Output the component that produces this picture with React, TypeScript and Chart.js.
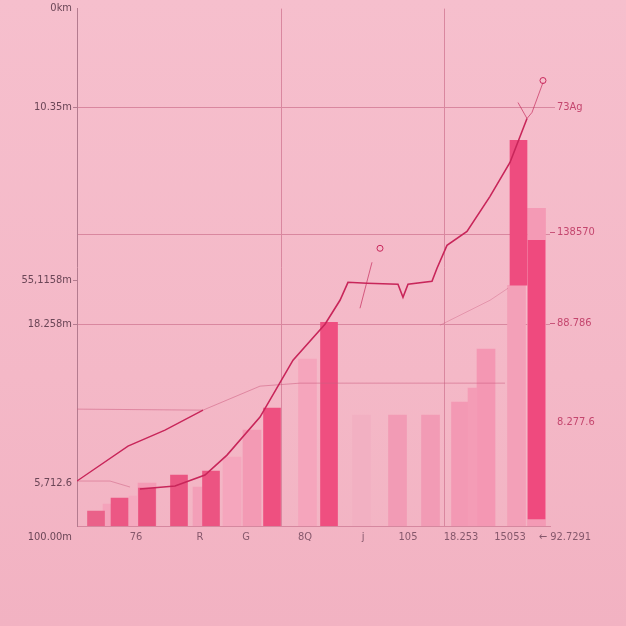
import { useEffect, useRef } from "react";
import { Chart, registerables } from "chart.js";

Chart.register(...registerables);

// ---- data ----
// x axis (position scale 0..100) tick positions and labels
const xTickValues = [12.47, 26.0, 35.73, 48.2, 60.47, 69.98, 81.18, 91.54, 103.17];
const xTickLabels = ["76", "R", "G", "8Q", "j", "105", "18.253", "15053", "← 92.7291"];

// vertical guide positions (unlabelled)
const vGridValues = [43.34, 77.8];

// left axis ticks
const yTickValues = [100, 80.89, 56.37, 47.49, 39.0, 8.3, -2.12];
const yTickLabels = ["0km", "10.35m", "", "55,1158m", "18.258m", "5,712.6", "100.00m"];

// right axis ticks
const rTickValues = [80.89, 56.76, 39.19, 20.08];
const rTickLabels = ["73Ag", "138570", "88.786", "8.277.6"];

// dark bars
const darkX = [4.02, 8.99, 14.8, 21.56, 28.33, 41.23, 53.28, 93.34, 97.15];
const darkBase = [0, 0, 0, 0, 0, 0, 0, 46.53, 1.35];
const darkTop = [2.9, 5.41, 7.34, 9.85, 10.62, 22.78, 39.38, 74.52, 55.21];

// light bars
const lightX = [14.8, 32.77, 37.0, 48.73, 60.15, 67.76, 74.74, 81.08, 86.47, 92.92, 97.15];
const lightTop = [8.3, 13.32, 18.53, 32.24, 21.43, 21.43, 21.43, 23.94, 34.17, 46.53, 61.39];

// narrow light bars
const sliverX = [6.45, 11.95, 25.48, 83.62];
const sliverTop = [4.25, 5.79, 7.53, 26.64];

// main rising line
const lineBX = [13.32, 20.72, 27.06, 31.71, 38.69, 45.67, 52.43, 55.6, 57.29, 61.31, 67.86, 68.92, 69.98, 75.05, 76.11, 78.22, 82.45, 87.32, 91.54, 95.14];
const lineBY = [7.14, 7.72, 9.85, 13.71, 21.04, 32.05, 39.0, 43.63, 47.1, 46.91, 46.72, 44.21, 46.72, 47.3, 49.81, 54.25, 56.95, 63.71, 70.27, 78.76];

// left line
const lineAX = [0, 10.78, 18.6, 26.64];
const lineAY = [8.69, 15.44, 18.53, 22.39];

// faint lines
const faint1X = [0, 26.64, 38.69, 47.15, 90.49];
const faint1Y = [22.59, 22.39, 27.03, 27.61, 27.61];
const faint2X = [0, 6.98, 11.21];
const faint2Y = [8.69, 8.69, 7.53];
const faint3X = [76.74, 87.32, 91.12];
const faint3Y = [38.8, 43.63, 45.95];

// thin strokes (null = break)
const thinX = [59.83, 62.37, 63.5, 93.23, 95.14, 96.19, 98.52];
const thinY = [42.08, 50.97, null, 81.85, 78.76, 79.92, 85.71];

// small circles
const markX = [64.06, 98.52];
const markY = [53.67, 86.1];

// ---- styles ----
const FONT = "'Liberation Sans Narrow', 'DejaVu Sans Condensed', 'DejaVu Sans', sans-serif";
const GRID = "#d9879f";
const NONE = "rgba(0,0,0,0)";
const MAUVE = "#b47b8f";
const yGridColors = [NONE, GRID, GRID, NONE, GRID, NONE, NONE];
const yTickColors = [NONE, MAUVE, NONE, MAUVE, MAUVE, NONE, NONE];
const rTickColors = [GRID, "#c9557a", "#c9557a", NONE];
const darkColors = ["#ea6189", "#ec5784", "#e9527f", "#eb5582", "#ec5482", "#ee5080", "#ef4f80", "#ee4c7f", "#ef4a7e"];
const lightColors = ["#f49bb5", "#f5a6bd", "#f39ab4", "#f5a5bc", "#f2b0c2", "#f29bb5", "#f29bb5", "#f399b4", "#f497b3", "#f3a0b8", "#f49ab5"];
const sliverColors = ["#f4a3bb", "#f5a9bf", "#f39fb8", "#f49cb6"];

const pts = (xs: number[], ys: (number | null)[]) => xs.map((x, i) => ({ x, y: ys[i] }));

export default function App() {
  const ref = useRef<HTMLCanvasElement>(null);

  useEffect(() => {
    document.body.style.margin = "0";
    const lineBase = {
      type: "line" as const,
      xAxisID: "x",
      yAxisID: "y",
      pointRadius: 0,
      tension: 0,
      fill: false,
      spanGaps: false,
    };
    const barBase = {
      type: "bar" as const,
      xAxisID: "x",
      yAxisID: "y",
      grouped: false,
      borderWidth: 0,
      borderSkipped: false as const,
    };
    const allXTicks = [...xTickValues, ...vGridValues];
    const chart = new Chart(ref.current as HTMLCanvasElement, {
      type: "bar",
      data: {
        datasets: [
          {
            ...lineBase,
            label: "marks",
            data: pts(markX, markY),
            showLine: false,
            pointRadius: 3,
            pointBackgroundColor: NONE,
            pointBorderColor: "#c8285c",
            pointBorderWidth: 1,
            order: -5,
          } as any,
          {
            ...lineBase,
            label: "main",
            data: pts(lineBX, lineBY),
            borderColor: "#c8265a",
            borderWidth: 1.6,
            order: -4,
          },
          {
            ...lineBase,
            label: "left",
            data: pts(lineAX, lineAY),
            borderColor: "#c8265a",
            borderWidth: 1.4,
            order: -4,
          },
          {
            ...lineBase,
            label: "thin",
            data: pts(thinX, thinY),
            borderColor: "rgba(196,40,90,0.75)",
            borderWidth: 0.9,
            order: -3,
          },
          {
            ...lineBase,
            label: "faint1",
            data: pts(faint1X, faint1Y),
            borderColor: "rgba(205,95,130,0.55)",
            borderWidth: 1,
            order: -2,
          },
          {
            ...lineBase,
            label: "faint2",
            data: pts(faint2X, faint2Y),
            borderColor: "rgba(205,95,130,0.5)",
            borderWidth: 1,
            order: -2,
          },
          {
            ...lineBase,
            label: "faint3",
            data: pts(faint3X, faint3Y),
            borderColor: "rgba(205,95,130,0.4)",
            borderWidth: 1,
            order: -2,
          },
          {
            ...barBase,
            label: "dark",
            data: darkX.map((x, i) => ({ x, y: [darkBase[i], darkTop[i]] })),
            backgroundColor: darkColors,
            barThickness: 17,
            order: 0,
          } as any,
          {
            ...barBase,
            label: "narrow",
            data: pts(sliverX, sliverTop),
            backgroundColor: sliverColors,
            barThickness: 9,
            order: 1,
          },
          {
            ...barBase,
            label: "light",
            data: pts(lightX, lightTop),
            backgroundColor: lightColors,
            barThickness: 18,
            order: 2,
          },
        ],
      },
      options: {
        responsive: false,
        animation: false,
        layout: { padding: { top: 8, left: 0, right: 0, bottom: 0 } },
        plugins: { legend: { display: false }, tooltip: { enabled: false } },
        scales: {
          x: {
            type: "linear",
            position: "bottom",
            min: 0,
            max: 100,
            offset: false,
            afterBuildTicks: (s: any) => {
              s.ticks = allXTicks.map((v) => ({ value: v }));
            },
            afterFit: (s: any) => {
              s.height = 100;
            },
            ticks: {
              autoSkip: false,
              maxRotation: 0,
              minRotation: 0,
              padding: 5,
              color: "#86586c",
              font: { family: FONT, size: 11 },
              callback: (_v: any, i: number) => xTickLabels[i] ?? "",
            },
            grid: {
              display: true,
              offset: false,
              drawTicks: false,
              color: (c: any) => (c.index >= xTickValues.length ? GRID : NONE),
            },
            border: { display: true, color: "#d5889f", width: 1 },
          },
          y: {
            type: "linear",
            position: "left",
            min: 0,
            max: 100,
            afterBuildTicks: (s: any) => {
              s.ticks = yTickValues.map((v) => ({ value: v }));
            },
            afterFit: (s: any) => {
              s.width = 77;
            },
            ticks: {
              autoSkip: false,
              padding: 1,
              color: "#6b4657",
              font: { family: FONT, size: 11 },
              callback: (_v: any, i: number) => yTickLabels[i],
            },
            grid: {
              color: (c: any) => yGridColors[c.index] ?? NONE,
              tickColor: (c: any) => yTickColors[c.index] ?? NONE,
              tickLength: 4,
              drawTicks: true,
            },
            border: { display: true, color: MAUVE, width: 1 },
          },
          yR: {
            type: "linear",
            position: "right",
            min: 0,
            max: 100,
            afterBuildTicks: (s: any) => {
              s.ticks = rTickValues.map((v) => ({ value: v }));
            },
            afterFit: (s: any) => {
              s.width = 76;
            },
            ticks: {
              autoSkip: false,
              padding: 2,
              color: "#c4466e",
              font: { family: FONT, size: 11 },
              callback: (_v: any, i: number) => rTickLabels[i],
            },
            grid: {
              drawOnChartArea: false,
              tickLength: 5,
              tickColor: (c: any) => rTickColors[c.index] ?? NONE,
            },
            border: { display: false },
          },
        },
      } as any,
    });
    return () => chart.destroy();
  }, []);

  return (
    <div
      style={{
        position: "fixed",
        left: 0,
        top: 0,
        width: 626,
        height: 626,
        background: "linear-gradient(180deg, #f6bfcd 0%, #f4b8c7 60%, #f2b2c2 100%)",
      }}
    >
      <canvas ref={ref} width={626} height={626} style={{ display: "block", width: 626, height: 626 }} />
    </div>
  );
}
